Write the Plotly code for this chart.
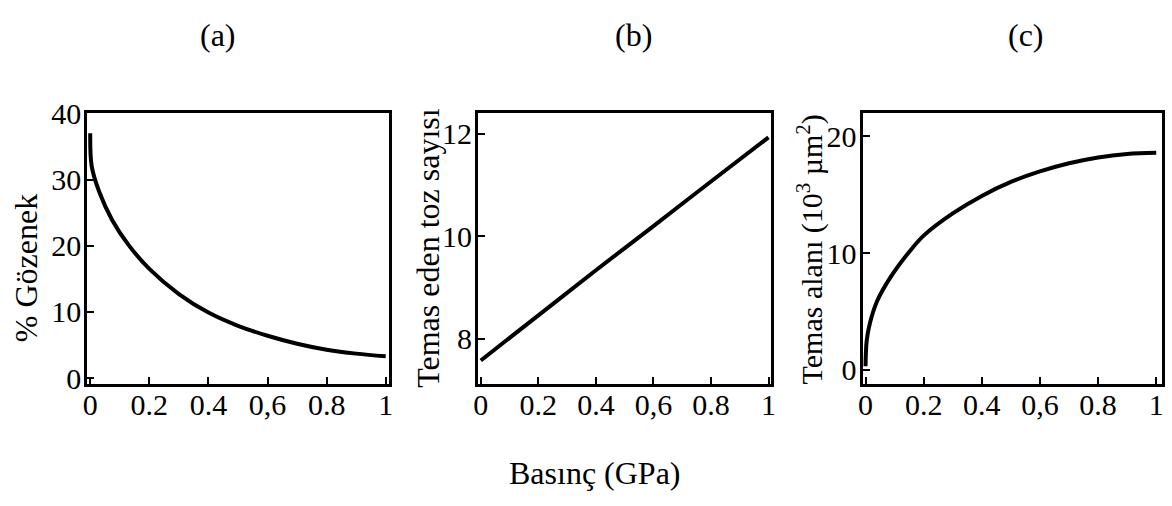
import plotly.graph_objects as go

W, H = 1172, 506

# Data
x_a = [0, 0.005, 0.03, 0.074, 0.13, 0.2, 0.3, 0.4, 0.5, 0.6, 0.7, 0.8, 0.9, 1.0]
y_a = [37.0, 32.0, 28.2, 23.9, 20.1, 16.5, 12.7, 9.9, 7.9, 6.4, 5.2, 4.3, 3.7, 3.3]

x_b = [0, 0.2, 0.4, 0.6, 0.8, 1.0]
y_b = [7.58, 8.46, 9.34, 10.2, 11.07, 11.93]

x_c = [0, 0.004, 0.015, 0.04, 0.085, 0.15, 0.2, 0.3, 0.4, 0.5, 0.6, 0.7, 0.8, 0.9, 1.0]
y_c = [0.3, 2.5, 4.0, 5.9, 7.9, 10.1, 11.5, 13.4, 14.9, 16.1, 17.0, 17.7, 18.2, 18.5, 18.6]

x_tickvals = [0, 0.2, 0.4, 0.6, 0.8, 1]
x_ticktext = ["0", "0.2", "0.4", "0,6", "0.8", "1"]
ya_ticks = [0, 10, 20, 30, 40]
yb_ticks = [8, 10, 12]
yc_ticks = [0, 10, 20]

panel_titles = ["(a)", "(b)", "(c)"]
y_titles = ["% Gözenek", "Temas eden toz sayısı", "Temas alanı (10<sup>3</sup> µm<sup>2</sup>)"]
x_title = "Basınç (GPa)"

FONT = "Liberation Serif"
FS_TICK = 30
FS_TITLE = 32

fig = go.Figure()

def px_x(p):
    return p / W

def px_y(p):
    return 1 - p / H

boxes = [(83, 387), (477, 773), (865, 1167)]
ytop, ybot = 102, 388
yranges = [[-0.9, 40.1], [7.12, 12.41], [-1.22, 22.03]]
xranges = [[-0.01, 1.01], [-0.01, 1.01], [-0.01, 1.02]]
yticks = [ya_ticks, yb_ticks, yc_ticks]
data = [(x_a, y_a), (x_b, y_b), (x_c, y_c)]

for i in range(3):
    xs, ys = data[i]
    sfx = "" if i == 0 else str(i + 1)
    fig.add_trace(go.Scatter(x=xs, y=ys, mode="lines",
                             line=dict(color="black", width=4, shape="spline", smoothing=1.0),
                             xaxis="x" + sfx, yaxis="y" + sfx, showlegend=False))
    axcommon = dict(showline=True, linecolor="black", linewidth=3, mirror=True,
                    ticks="inside", ticklen=7, tickwidth=2, tickcolor="black",
                    showgrid=False, zeroline=False,
                    tickfont=dict(family=FONT, size=FS_TICK, color="black"))
    fig.update_layout(**{
        "xaxis" + sfx: dict(domain=[px_x(boxes[i][0]), px_x(boxes[i][1])],
                            range=xranges[i], anchor="y" + sfx,
                            tickmode="array", tickvals=x_tickvals, ticktext=x_ticktext,
                            ticklabelstandoff=-8,
                            **axcommon),
        "yaxis" + sfx: dict(domain=[px_y(ybot), px_y(ytop)],
                            range=yranges[i], anchor="x" + sfx,
                            tickmode="array", tickvals=yticks[i],
                            ticklabelstandoff=-3,
                            **axcommon),
    })

annos = []
title_x = [215, 634, 1030]
for i in range(3):
    annos.append(dict(text=panel_titles[i], x=px_x(title_x[i]), y=px_y(20),
                      xref="paper", yref="paper", showarrow=False,
                      xanchor="center", yanchor="middle",
                      font=dict(family=FONT, size=FS_TITLE, color="black")))
ytitle_pos = [(22, 266), (427, 244), (812, 246)]
ytitle_fs = [FS_TITLE, FS_TITLE, 30]
for i in range(3):
    annos.append(dict(text=y_titles[i], x=px_x(ytitle_pos[i][0]), y=px_y(ytitle_pos[i][1]),
                      xref="paper", yref="paper", showarrow=False, textangle=-90,
                      xanchor="center", yanchor="middle",
                      font=dict(family=FONT, size=ytitle_fs[i], color="black")))
annos.append(dict(text=x_title, x=px_x(595), y=px_y(482), xref="paper", yref="paper",
                  showarrow=False, xanchor="center", yanchor="middle",
                  font=dict(family=FONT, size=FS_TITLE, color="black")))

fig.update_layout(width=W, height=H, margin=dict(l=0, r=0, t=0, b=0),
                  paper_bgcolor="white", plot_bgcolor="white",
                  annotations=annos)

fig.write_html("out.html")
